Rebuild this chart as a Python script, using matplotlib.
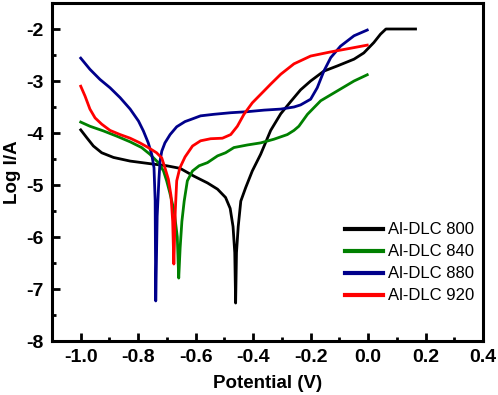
import matplotlib
matplotlib.use('Agg')
import matplotlib.pyplot as plt
from matplotlib.ticker import MultipleLocator

plt.rcParams['font.family'] = ['Liberation Sans', 'DejaVu Sans']

# Al-DLC 800
x800 = [-1.0, -0.979, -0.956, -0.927, -0.886, -0.828, -0.759, -0.701, -0.654, -0.606, -0.559, -0.524,
        -0.496, -0.48, -0.47, -0.464, -0.461,
        -0.458, -0.452, -0.443, -0.426, -0.403, -0.374, -0.339, -0.304, -0.27, -0.235, -0.2,
        -0.154, -0.107, -0.049, -0.015, 0.02, 0.043, 0.062, 0.165]
y800 = [-3.94, -4.09, -4.25, -4.38, -4.47, -4.54, -4.59, -4.63, -4.68, -4.83, -4.96, -5.08,
        -5.24, -5.45, -5.8, -6.3, -7.27,
        -6.3, -5.8, -5.31, -5.05, -4.73, -4.41, -3.95, -3.63, -3.4, -3.17, -3.0,
        -2.81, -2.71, -2.58, -2.46, -2.26, -2.1, -2.0, -2.0]

# Al-DLC 840
x840 = [-1.0, -0.968, -0.921, -0.875, -0.828, -0.788, -0.759, -0.73, -0.712, -0.701, -0.69, -0.675,
        -0.664, -0.659,
        -0.654, -0.648, -0.64, -0.629, -0.611, -0.588, -0.559, -0.524, -0.496, -0.467, -0.42, -0.374,
        -0.328, -0.281, -0.258, -0.241, -0.211, -0.165, -0.107, -0.049, -0.003]
y840 = [-3.79, -3.87, -3.96, -4.06, -4.17, -4.28, -4.41, -4.57, -4.73, -4.92, -5.15, -5.5,
        -6.0, -6.79,
        -6.2, -5.7, -5.31, -4.92, -4.73, -4.63, -4.57, -4.44, -4.38, -4.28, -4.23, -4.19,
        -4.12, -4.03, -3.95, -3.87, -3.64, -3.38, -3.19, -3.0, -2.88]

# Al-DLC 880
x880 = [-1.0, -0.968, -0.933, -0.898, -0.863, -0.828, -0.799, -0.782, -0.765, -0.753, -0.745, -0.741,
        -0.739,
        -0.734, -0.728, -0.724, -0.718, -0.707, -0.689, -0.666, -0.637, -0.617, -0.583, -0.536,
        -0.478, -0.42, -0.362, -0.304, -0.258, -0.235, -0.2, -0.177, -0.154, -0.13, -0.096, -0.049, -0.003]
y880 = [-2.56, -2.775, -2.97, -3.13, -3.32, -3.54, -3.77, -3.96, -4.19, -4.41, -4.67, -5.3,
        -7.23,
        -5.6, -4.9, -4.54, -4.35, -4.19, -4.03, -3.88, -3.78, -3.74, -3.67, -3.64,
        -3.61, -3.59, -3.56, -3.54, -3.5, -3.46, -3.35, -3.13, -2.81, -2.55, -2.33, -2.13, -2.02]

# Al-DLC 920
x920 = [-1.0, -0.985, -0.968, -0.95, -0.927, -0.898, -0.863, -0.828, -0.794, -0.765, -0.736, -0.718,
        -0.707, -0.695, -0.686, -0.68, -0.676,
        -0.671, -0.666, -0.655, -0.637, -0.611, -0.583, -0.548, -0.507, -0.478, -0.455, -0.432,
        -0.403, -0.362, -0.339, -0.304, -0.258, -0.2, -0.13, -0.061, -0.003]
y920 = [-3.1, -3.29, -3.54, -3.71, -3.83, -3.95, -4.03, -4.1, -4.19, -4.28, -4.38, -4.48,
        -4.67, -4.89, -5.2, -5.7, -6.52,
        -5.5, -4.92, -4.67, -4.46, -4.25, -4.15, -4.11, -4.1, -4.03, -3.87, -3.64,
        -3.42, -3.19, -3.06, -2.87, -2.67, -2.52, -2.44, -2.37, -2.31]

labels = ['Al-DLC 800', 'Al-DLC 840', 'Al-DLC 880', 'Al-DLC 920']
colors = ['black', '#008000', '#00008B', '#FF0000']

fig = plt.figure(figsize=(4.98, 3.95), dpi=100)
ax = fig.add_axes([0.1044, 0.1367, 0.8656, 0.8557])

for xs, ys, lab, c in zip([x800, x840, x880, x920], [y800, y840, y880, y920], labels, colors):
    ax.plot(xs, ys, color=c, lw=2, label=lab)

ax.set_xlim(-1.1, 0.4)
ax.set_ylim(-8, -1.5)
ax.xaxis.set_minor_locator(MultipleLocator(0.1))
ax.yaxis.set_minor_locator(MultipleLocator(0.5))
ax.set_xticks([-1.0, -0.8, -0.6, -0.4, -0.2, 0.0, 0.2, 0.4])
ax.set_xticklabels(['-1.0', '-0.8', '-0.6', '-0.4', '-0.2', '0.0', '0.2', '0.4'])
ax.set_yticks([-8, -7, -6, -5, -4, -3, -2])
ax.set_yticklabels(['-8', '-7', '-6', '-5', '-4', '-3', '-2'])

ax.tick_params(which='both', direction='in', top=False, right=False, width=2)
ax.tick_params(which='major', length=6, labelsize=14, pad=6)
ax.tick_params(which='minor', length=3)
for lbl in ax.get_xticklabels() + ax.get_yticklabels():
    lbl.set_fontweight('bold')
for s in ax.spines.values():
    s.set_linewidth(2.2)

ax.set_xlabel('Potential (V)', fontsize=13.5, fontweight='bold', labelpad=6)
ax.set_ylabel('Log I/A', fontsize=13.5, fontweight='bold', labelpad=4)

leg = ax.legend(loc='upper left', bbox_to_anchor=(0.645, 0.395), frameon=False, fontsize=12,
                handlelength=2.25, handletextpad=0.35, labelspacing=0.42)
for h in leg.get_lines():
    h.set_linewidth(3)

fig.savefig('out.png', dpi=100)
